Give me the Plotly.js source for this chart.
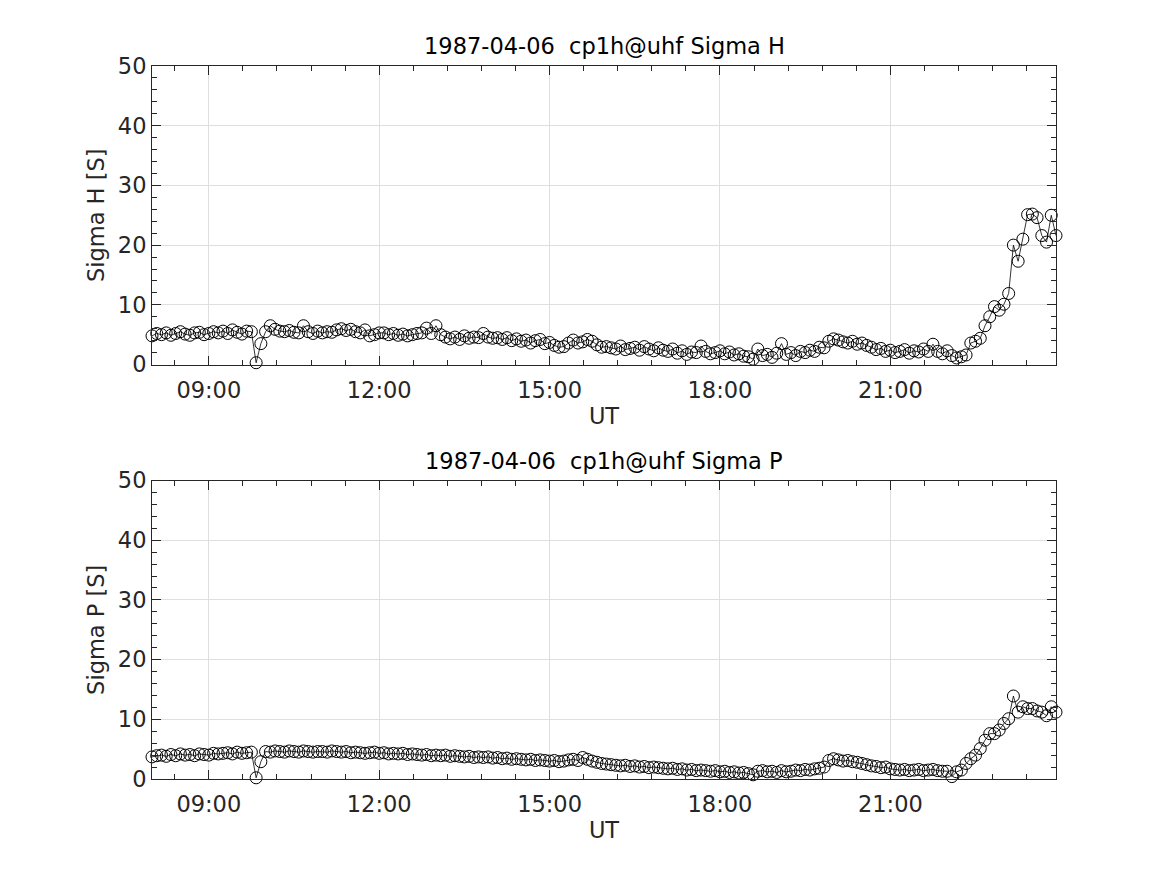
<!DOCTYPE html>
<html><head><meta charset="utf-8">
<script src="https://cdn.plot.ly/plotly-3.0.1.min.js"></script>
<style>html,body{margin:0;padding:0;background:#fff}</style>
</head><body><div id="chart" style="width:1167px;height:875px"></div>
<script>
const DAY = '1987-04-06';
const titleH = '1987-04-06\u00A0\u00A0cp1h@uhf Sigma H';
const titleP = '1987-04-06\u00A0\u00A0cp1h@uhf Sigma P';
const xLabel = 'UT';
const yLabelH = 'Sigma H [S]';
const yLabelP = 'Sigma P [S]';

const timesUT = [
"08:00","08:05","08:10","08:15","08:20","08:25","08:30","08:35","08:40","08:45","08:50","08:55",
"09:00","09:05","09:10","09:15","09:20","09:25","09:30","09:35","09:40","09:45","09:50","09:55",
"10:00","10:05","10:10","10:15","10:20","10:25","10:30","10:35","10:40","10:45","10:50","10:55",
"11:00","11:05","11:10","11:15","11:20","11:25","11:30","11:35","11:40","11:45","11:50","11:55",
"12:00","12:05","12:10","12:15","12:20","12:25","12:30","12:35","12:40","12:45","12:50","12:55",
"13:00","13:05","13:10","13:15","13:20","13:25","13:30","13:35","13:40","13:45","13:50","13:55",
"14:00","14:05","14:10","14:15","14:20","14:25","14:30","14:35","14:40","14:45","14:50","14:55",
"15:00","15:05","15:10","15:15","15:20","15:25","15:30","15:35","15:40","15:45","15:50","15:55",
"16:00","16:05","16:10","16:15","16:20","16:25","16:30","16:35","16:40","16:45","16:50","16:55",
"17:00","17:05","17:10","17:15","17:20","17:25","17:30","17:35","17:40","17:45","17:50","17:55",
"18:00","18:05","18:10","18:15","18:20","18:25","18:30","18:35","18:40","18:45","18:50","18:55",
"19:00","19:05","19:10","19:15","19:20","19:25","19:30","19:35","19:40","19:45","19:50","19:55",
"20:00","20:05","20:10","20:15","20:20","20:25","20:30","20:35","20:40","20:45","20:50","20:55",
"21:00","21:05","21:10","21:15","21:20","21:25","21:30","21:35","21:40","21:45","21:50","21:55",
"22:00","22:05","22:10","22:15","22:20","22:25","22:30","22:35","22:40","22:45","22:50","22:55",
"23:00","23:05","23:10","23:15","23:20","23:25","23:30","23:35","23:40","23:45","23:50","23:55"
];

const sigmaH = [
4.8,5.2,5.0,5.3,4.9,5.2,5.5,5.1,4.9,5.3,5.4,5.0,
5.2,5.5,5.3,5.6,5.2,5.8,5.4,5.1,5.6,5.5,0.3,3.5,
5.5,6.5,5.9,5.6,5.5,5.7,5.4,5.3,6.5,5.5,5.2,5.6,
5.3,5.5,5.4,5.8,6.0,5.7,5.9,5.5,5.3,5.8,4.8,5.0,
5.3,5.3,5.0,5.2,4.9,5.1,4.8,5.0,5.2,5.3,6.1,5.2,
6.5,5.0,4.6,4.3,4.6,4.2,4.8,4.4,4.6,4.5,5.2,4.6,
4.4,4.5,4.2,4.5,4.0,4.3,3.9,4.1,3.6,4.0,4.2,3.5,
3.7,3.2,2.9,3.0,3.6,4.1,3.6,3.8,4.2,3.9,3.3,2.9,
3.0,2.8,2.6,3.1,2.5,2.7,2.9,2.4,3.0,2.6,2.3,2.8,
2.4,2.2,2.6,1.9,2.3,1.7,2.1,2.0,3.1,2.2,1.8,2.0,
2.3,1.8,2.1,1.6,1.8,1.4,1.3,0.9,2.6,1.5,1.7,1.2,
1.9,3.5,1.7,2.0,1.5,2.2,2.0,2.4,2.2,2.9,2.8,3.9,
4.3,4.1,3.8,3.6,3.9,3.4,3.6,3.2,2.9,2.5,2.7,2.2,
2.4,2.0,2.2,2.5,1.9,2.3,2.1,2.6,2.2,3.4,2.2,1.8,
2.3,1.5,1.1,1.3,1.6,3.6,3.9,4.4,6.5,8.0,9.7,9.1,
10.1,11.9,20.0,17.3,21.0,25.1,25.2,24.6,21.6,20.5,25.0,21.6
];

const sigmaP = [
3.7,3.9,4.0,3.8,4.1,3.9,4.2,4.0,4.1,3.9,4.2,4.1,
4.0,4.3,4.2,4.3,4.4,4.2,4.5,4.3,4.4,4.5,0.2,2.9,
4.6,4.5,4.7,4.6,4.5,4.7,4.6,4.5,4.7,4.6,4.5,4.6,
4.6,4.5,4.7,4.6,4.5,4.6,4.4,4.5,4.4,4.3,4.4,4.5,
4.3,4.4,4.2,4.3,4.2,4.3,4.1,4.2,4.1,4.0,4.1,3.9,
4.0,3.9,4.0,3.8,3.9,3.8,3.7,3.8,3.6,3.7,3.6,3.7,
3.5,3.6,3.4,3.5,3.3,3.4,3.3,3.2,3.3,3.1,3.2,3.1,
3.0,3.1,2.9,3.0,3.2,3.3,3.1,3.6,3.3,3.0,2.8,2.6,
2.5,2.4,2.3,2.2,2.3,2.1,2.2,2.0,2.1,1.9,2.0,1.9,
1.8,1.7,1.8,1.6,1.7,1.5,1.6,1.4,1.5,1.4,1.3,1.4,
1.2,1.3,1.1,1.2,1.0,1.1,0.9,0.7,1.3,1.4,1.2,1.3,
1.1,1.4,1.2,1.3,1.5,1.4,1.6,1.5,1.7,1.8,2.0,3.1,
3.4,3.2,3.0,3.1,2.9,2.8,2.6,2.4,2.2,2.1,1.9,2.0,
1.7,1.6,1.5,1.6,1.4,1.5,1.6,1.4,1.5,1.6,1.4,1.3,
1.3,0.4,1.2,1.5,2.6,3.4,4.0,5.1,6.5,7.6,7.6,8.2,
9.3,10.1,13.9,11.2,12.1,11.8,11.8,11.4,11.2,10.6,12.1,11.2
];

const xs = timesUT.map(t => DAY + ' ' + t);
const FONT = 'DejaVu Sans, Arial, sans-serif';
const AX = '#262626';
const FS = 22.5;

function mkTrace(y, xa, ya) {
  return {
    x: xs, y: y, xaxis: xa, yaxis: ya, type: 'scatter', mode: 'lines+markers',
    line: {color: '#000', width: 0.8},
    marker: {symbol: 'circle-open', size: 12, color: '#000', line: {width: 1, color: '#000'}},
    cliponaxis: false, showlegend: false, hoverinfo: 'x+y'
  };
}

function xAxis(anchor) {
  return {
    anchor: anchor, domain: [0, 1], type: 'date',
    range: [DAY + ' 08:00', DAY + ' 23:55'],
    tick0: DAY + ' 09:00', dtick: 3 * 3600 * 1000, tickformat: '%H:%M',
    showline: true, linecolor: AX, linewidth: 1, mirror: 'allticks',
    ticks: 'inside', ticklen: 9, tickwidth: 1, tickcolor: AX,
    ticklabelstandoff: 5,
    showgrid: true, gridcolor: '#dfdfdf', gridwidth: 1, zeroline: false,
    tickfont: {family: FONT, size: FS, color: AX},
    minor: {ticks: 'inside', ticklen: 5, tickwidth: 1, tickcolor: AX, tick0: DAY + ' 09:00', dtick: 36 * 60 * 1000, showgrid: false},
    title: {text: xLabel, font: {family: FONT, size: FS, color: AX}, standoff: 6}
  };
}
function yAxis(anchor, dom, label) {
  return {
    anchor: anchor, domain: dom, range: [0, 50], dtick: 10, tick0: 0,
    showline: true, linecolor: AX, linewidth: 1, mirror: 'allticks',
    ticks: 'inside', ticklen: 9, tickwidth: 1, tickcolor: AX,
    showgrid: true, gridcolor: '#dfdfdf', gridwidth: 1, zeroline: false,
    tickfont: {family: FONT, size: FS, color: AX},
    minor: {ticks: 'inside', ticklen: 5, tickwidth: 1, tickcolor: AX, dtick: 2, showgrid: false},
    title: {text: label, font: {family: FONT, size: FS, color: AX}, standoff: 6}
  };
}

const topDom = [0.5813, 1];
const botDom = [0, 0.4186];

const layout = {
  width: 1167, height: 875,
  paper_bgcolor: '#fff', plot_bgcolor: '#fff',
  margin: {l: 151.7, r: 110.9, t: 65.6, b: 96.25, pad: 0},
  font: {family: FONT, size: FS, color: AX},
  xaxis: xAxis('y'),
  yaxis: yAxis('x', topDom, yLabelH),
  xaxis2: xAxis('y2'),
  yaxis2: yAxis('x2', botDom, yLabelP),
  annotations: [
    {text: titleH, xref: 'paper', yref: 'paper', x: 0.5, y: topDom[1], xanchor: 'center', yanchor: 'bottom', yshift: 5, showarrow: false, font: {family: FONT, size: FS, color: '#000'}},
    {text: titleP, xref: 'paper', yref: 'paper', x: 0.5, y: botDom[1], xanchor: 'center', yanchor: 'bottom', yshift: 5, showarrow: false, font: {family: FONT, size: FS, color: '#000'}}
  ]
};

Plotly.newPlot('chart', [mkTrace(sigmaH, 'x', 'y'), mkTrace(sigmaP, 'x2', 'y2')], layout, {displayModeBar: false, staticPlot: true});
</script>
</body></html>
